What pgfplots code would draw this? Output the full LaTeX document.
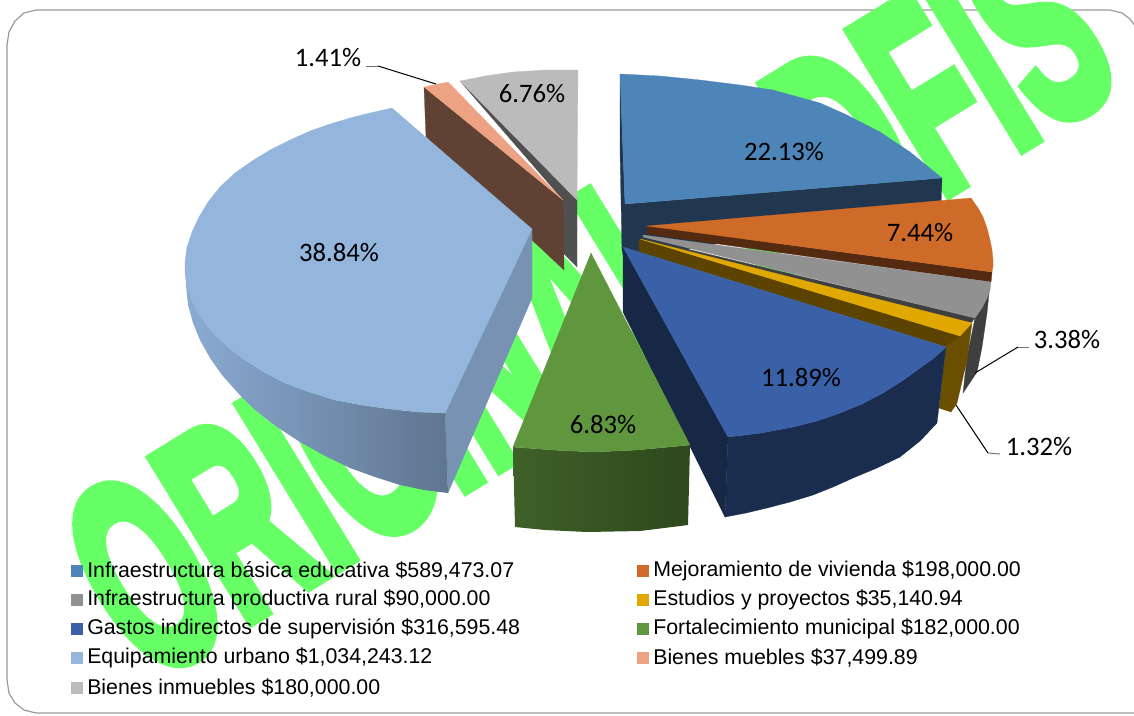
\documentclass[border=0pt]{standalone}
\usepackage{pgfplots}
\usepackage{fontspec}
\pgfplotsset{compat=1.18}
\setmainfont{Carlito}
\newfontfamily\legfont{Liberation Sans}
\newfontfamily\wm[FakeBold=5]{Liberation Sans Bold}
\definecolor{cA}{HTML}{4E85B9}\definecolor{cAd}{HTML}{20374F}
\definecolor{cB}{HTML}{CF6B28}\definecolor{cBd}{HTML}{542A10}
\definecolor{cC}{HTML}{919191}\definecolor{cCd}{HTML}{3F3F3F}
\definecolor{cD}{HTML}{E0A800}\definecolor{cDd}{HTML}{5C4400}\definecolor{cDe}{HTML}{6B4F00}
\definecolor{cE}{HTML}{3A61A8}\definecolor{cEd}{HTML}{172846}
\definecolor{cF}{HTML}{5F963E}\definecolor{cFl}{HTML}{3F6029}\definecolor{cFr}{HTML}{2E481C}
\definecolor{cG}{HTML}{94B6DD}\definecolor{cGl}{HTML}{8BABD2}\definecolor{cGm}{HTML}{7C97B9}\definecolor{cGr}{HTML}{5F7590}\definecolor{cGe}{HTML}{7892B3}
\definecolor{cH}{HTML}{EDA383}\definecolor{cHd}{HTML}{604235}
\definecolor{cI}{HTML}{BBBBBB}\definecolor{cId}{HTML}{505050}
\definecolor{wmc}{HTML}{66FF66}
\newcommand\poly[2]{\addplot[fill=#1,draw=#1,line width=.2pt] coordinates {#2} --cycle;}
\newcommand\seg[2][black]{\addplot[draw=#1,line width=.75pt] coordinates {#2};}
\newcommand\lab[2]{\node[font=\fontsize{20}{20}\selectfont,inner sep=0pt] at (axis cs:#1) {#2};}
\newcommand\leg[2]{\node[font=\legfont\fontsize{16}{17}\selectfont,anchor=west,inner sep=0pt] at (axis cs:#1) {#2};}
\begin{document}
\begin{tikzpicture}
\begin{axis}[scale only axis,width=850.5pt,height=536.25pt,hide axis,xmin=0,xmax=1134,ymin=0,ymax=715,y dir=reverse,clip=true]
% frame
\addplot[draw=black!40,line width=.9pt] coordinates {(7,45) (9,32) (15,21) (24,13) (36,10) (1110,10) (1122,13) (1130,19) (1138,30)};
\addplot[draw=black!40,line width=.9pt] coordinates {(7,45) (7,680) (9,693) (15,703) (24,710) (36,713) (1134,713)};
% watermark
\node[rotate=31.5,inner sep=0pt,text=wmc] at (axis cs:588,303) {\scalebox{0.518}[1]{\wm\fontsize{205}{205}\selectfont ORIGINAL PDFIS}};
% bienes inmuebles
\poly{cId}{(460,81) (577,197) (577,267) (563,253) (563,200)}
\poly{cI}{(460,81) (485,76) (513,72) (545,70) (578,70) (577,200)}
% bienes muebles
\poly{cHd}{(424,87) (563,200) (564,270) (532,240) (426,137)}
\poly{cH}{(424,87) (448,82) (563,200)}
% equipamiento urbano
\poly{cGe}{(532,229) (445,413) (448,493) (532,298)}
\addplot[left color=cGl,middle color=cGm,right color=cGr,draw=none] coordinates {(185,262) (185,274) (187,285) (191,298) (197,310) (205,323) (215,335) (229,348) (245,360) (264,372) (285,383) (309,392) (335,400) (362,405) (390,409) (418,412) (445,413) (448,493) (424,490) (400,485) (375,477) (350,468) (325,456) (300,442) (277,427) (255,410) (238,393) (222,375) (210,358) (200,340) (193,323) (188,305) (186,285)} --cycle;
\poly{cG}{(392,108) (370,113) (350,118) (330,124) (310,131) (290,140) (270,150) (252,161) (235,173) (220,187) (208,202) (199,217) (192,232) (187,247) (185,262) (185,274) (187,285) (191,298) (197,310) (205,323) (215,335) (229,348) (245,360) (264,372) (285,383) (309,392) (335,400) (362,405) (390,409) (418,412) (445,413) (532,229)}
% infraestructura educativa
\poly{cAd}{(620,74) (625,204) (942,178) (941,205) (624,260) (622,250) (620,150)}
\poly{cA}{(620,74) (660,76) (700,80) (740,85) (773,90) (820,103) (847,115) (880,132) (910,152) (942,178) (625,204)}
% gray wall
\poly{cCd}{(990,283) (987,313) (982,347) (977,372) (963,393) (967,357) (975,318)}
% vivienda
\poly{cBd}{(647,226) (992,272) (991,282) (647,234)}
\poly{cB}{(647,226) (971,198) (978,208) (983,217) (987,228) (990,240) (992,250) (993,260) (993,266) (992,272)}
% productiva
\poly{cCd}{(641,238) (975,318) (971,323) (641,241)}
\poly{cC}{(643,235) (991,282) (990,290) (987,298) (982,308) (975,318) (643,237)}
% estudios
\poly{cDe}{(946,347) (960,336) (972,323) (967,360) (957,403) (951,412) (939,408)}
\poly{cDd}{(639,239) (960,336) (946,347) (639,252)}
\poly{cD}{(640,239) (972,323) (960,336)}
% gastos
\poly{cEd}{(623,247) (728,437) (725,517) (623,312)}
\addplot[fill=cEd!92!cE,draw=cEd!92!cE,line width=.2pt] coordinates {(728,437) (761,433) (793,427) (817,421) (840,413) (862,404) (883,393) (902,381) (920,368) (934,358) (946,347) (937,423) (920,441) (900,457) (877,468) (853,478) (833,487) (813,495) (790,502) (767,508) (746,513) (725,517)} --cycle;
\poly{cE}{(623,247) (946,347) (934,358) (920,368) (902,381) (883,393) (862,404) (840,413) (817,421) (793,427) (761,433) (728,437)}
% fortalecimiento
\addplot[left color=cFl,right color=cFr,draw=none] coordinates {(513,447) (553,450) (593,452) (637,450) (690,445) (688,525) (664,528) (640,531) (587,532) (545,530) (515,527)} --cycle;
\poly{cF}{(591,253) (513,447) (553,450) (593,452) (637,450) (690,445)}
% leaders
\seg[black!55]{(366,66) (378,66)}
\seg{(378,66) (436,84)}
\seg{(975,373) (1018,347)}
\seg[black!55]{(1018,347) (1029,347)}
\seg{(956,405) (988,453)}
\seg[black!55]{(988,453) (1000,454)}
% labels
\lab{784,152}{22.13\%}
\lab{920,233}{7.44\%}
\lab{1067,339}{3.38\%}
\lab{1039,447}{1.32\%}
\lab{801,377}{11.89\%}
\lab{603,424}{6.83\%}
\lab{339,252}{38.84\%}
\lab{328,58}{1.41\%}
\lab{532,94}{6.76\%}
% legend
\poly{cA}{(71,565) (82,565) (82,576) (71,576)}
\poly{cB}{(637,565) (648,565) (648,576) (637,576)}
\poly{cC}{(71,594) (82,594) (82,605) (71,605)}
\poly{cD}{(637,594) (648,594) (648,605) (637,605)}
\poly{cE}{(71,623) (82,623) (82,634) (71,634)}
\poly{cF}{(637,623) (648,623) (648,634) (637,634)}
\poly{cG}{(71,652) (82,652) (82,663) (71,663)}
\poly{cH}{(637,652) (648,652) (648,663) (637,663)}
\poly{cI}{(71,682) (82,682) (82,693) (71,693)}
\leg{87,570.5}{Infraestructura básica educativa \$589,473.07}
\leg{653,570.5}{Mejoramiento de vivienda \$198,000.00}
\leg{87,599.5}{Infraestructura productiva rural \$90,000.00}
\leg{653,599.5}{Estudios y proyectos \$35,140.94}
\leg{87,628.5}{Gastos indirectos de supervisión \$316,595.48}
\leg{653,628.5}{Fortalecimiento municipal \$182,000.00}
\leg{87,657.5}{Equipamiento urbano \$1,034,243.12}
\leg{653,657.5}{Bienes muebles \$37,499.89}
\leg{87,687.5}{Bienes inmuebles \$180,000.00}
\end{axis}
\pgfresetboundingbox
\path (0,0) rectangle (850.5pt,536.25pt);
\end{tikzpicture}
\end{document}
